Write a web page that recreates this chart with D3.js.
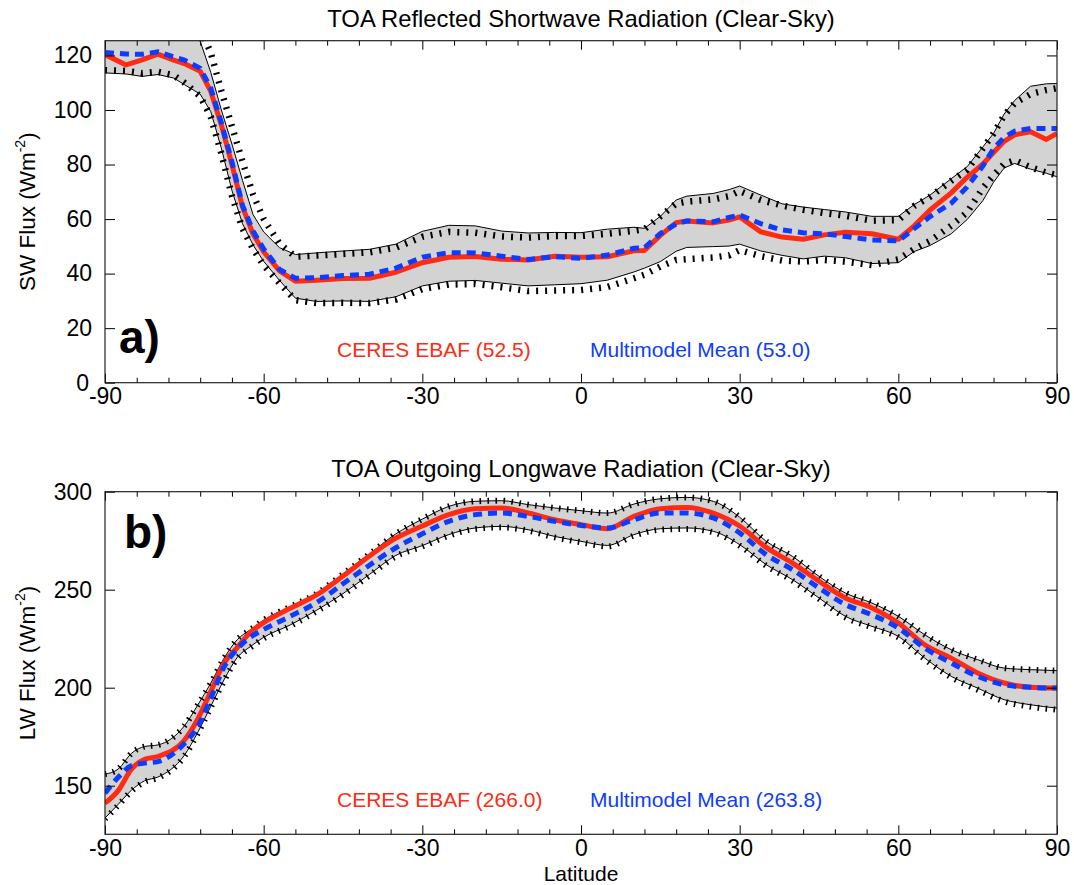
<!DOCTYPE html>
<html><head><meta charset="utf-8">
<script src="https://cdn.jsdelivr.net/npm/d3@7"></script>
<style>
body{margin:0;background:#fff;}
svg{display:block;font-family:"Liberation Sans",Arial,Helvetica,sans-serif;}
</style></head><body>
<svg id="chart" width="1074" height="885"></svg>
<script>
// ---------------- DATA ----------------
// Panel a) TOA reflected SW (clear-sky)
const latSW = [-90,-86,-83,-80,-77,-75,-72,-70,-68,-66,-64,-62,-60,-57,-54,-50,-45,-40,-35,-30,-25,-20,-15,-10,-5,0,5,10,12,15,18,20,25,28,30,34,38,42,46,50,55,60,63,66,70,73,76,78,80,82,85,88,90];
const ceresSW = [120.3,116.5,118.4,120.5,118.3,117.0,114.2,106.8,94.5,80.0,64.5,54.5,48.0,41.0,37.2,37.6,38.2,38.3,40.5,44.0,46.0,46.3,45.3,45.0,46.4,46.0,46.2,48.4,48.5,54.0,58.7,59.3,58.6,59.6,60.8,55.3,53.4,52.6,54.2,55.2,54.6,52.6,57.5,63.3,69.6,75.3,80.2,84.4,88.5,90.9,92.0,89.2,91.4];
const modelSW = [121.1,120.5,120.4,121.3,119.5,118.3,115.3,108.0,95.3,81.0,65.0,55.6,49.0,41.5,38.3,38.5,39.3,39.8,42.0,46.0,47.7,47.6,46.4,45.2,46.2,45.6,46.8,49.3,49.5,54.7,58.2,59.3,59.0,60.6,61.5,58.3,56.0,55.0,54.6,53.6,52.3,52.0,56.5,60.9,65.8,71.8,79.5,85.8,90.0,92.2,93.2,93.2,93.2];
const bandHiSW = [131,131,131,131,130,129,125.2,113.8,100.0,87.5,74.2,61.6,55.3,49.5,47.0,47.6,48.3,48.9,50.8,55.5,57.7,57.5,55.6,54.9,55.1,55.0,56.3,57.0,56.6,61.0,67.0,68.4,69.4,70.8,72.1,68.8,65.6,64.4,63.5,62.6,61.0,61.0,65.3,68.8,74.8,79.2,86.5,91.4,98.5,103.5,108.7,109.6,109.7];
const bandLoSW = [113.6,113.2,112.3,113.0,111.7,109.3,105.8,99.4,86.0,70.5,58.3,50.5,44.5,37.5,31.0,29.8,30.0,29.8,31.5,35.5,37.2,37.5,36.5,35.5,35.9,36.3,37.6,40.6,42.0,44.4,48.2,49.6,49.9,50.1,50.8,48.3,46.7,45.4,46.4,45.8,43.7,44.0,48.1,50.3,54.6,59.8,66.8,73.5,78.7,80.4,78.3,76.8,75.5];
const dotHiSW = [134,134,134,134,133,132,130,121,107,94,81,69,60,51,46.2,46.6,47.2,47.8,49.5,53.5,55.3,55.0,53.6,53.2,53.8,53.8,54.6,55.7,56.3,61.0,65.7,66.4,67.2,68.4,70.3,67.0,65.0,63.4,62.2,61.2,59.4,59.6,64.8,68.2,74.0,78.0,86.0,91.4,98.0,102.5,105.8,107.3,108.0];
const dotLoSW = [114.6,114.3,113.5,114.0,112.7,110.0,105.0,97.5,84.0,68.5,56.5,49.0,43.0,36.5,30.3,29.2,29.3,29.2,30.5,34.3,36.0,36.2,35.0,33.6,33.8,34.0,35.1,38.3,39.6,42.6,45.0,45.3,45.9,46.7,48.6,46.4,44.8,44.4,45.0,44.4,43.1,45.2,49.0,52.0,57.6,62.5,71.4,76.0,80.2,81.6,79.0,77.0,76.1];
const yTicksSW = [0,20,40,60,80,100,120];

// Panel b) TOA outgoing LW (clear-sky)
const latLW = [-90,-87.5,-85,-82.5,-80,-75,-72.5,-70,-67.5,-65,-62.5,-60,-55,-50,-45,-40,-35,-30,-25,-20,-15,-10,-5,0,5,10,15,20,25,30,35,40,45,50,55,60,65,70,75,80,85,90];
const ceresLW = [141.1,147.5,158.4,163.5,164.9,173.2,183.8,198.0,212.5,220.5,228.3,233.2,240.5,247.3,257.0,267.2,276.3,282.5,288.3,291.3,291.7,289.1,285.7,283.2,281.1,287.4,291.3,292.0,289.1,282.5,271.6,263.6,254.3,245.8,240.7,233.0,221.9,215.1,207.5,202.4,200.2,199.8];
const modelLW = [146.2,154.3,160.2,161.5,162.3,171.5,180.0,194.6,210.5,219.8,225.8,229.7,236.4,243.4,253.0,262.5,271.4,278.5,284.9,288.3,289.1,287.4,284.9,282.8,281.5,285.7,289.1,289.1,286.6,279.0,267.9,260.2,250.9,242.4,237.2,230.5,220.2,212.6,205.8,201.5,200.2,199.8];
const bandHiLW = [155.9,158.5,166.5,170.0,170.8,180.5,191.0,202.3,215.0,224.5,229.6,234.5,241.3,248.0,258.0,268.2,278.5,286.0,292.5,295.1,295.4,293.4,291.7,290.3,289.1,293.7,296.4,297.1,295.1,287.0,274.7,267.0,256.8,248.3,243.2,236.4,227.0,219.4,214.3,210.0,209.2,208.7];
const bandLoLW = [133.5,140.5,147.7,152.5,154.4,165.5,177.0,190.5,204.0,215.4,221.0,225.7,232.0,239.5,248.0,257.8,267.5,272.5,278.1,281.5,282.3,280.6,277.2,274.7,272.6,278.1,281.1,281.5,279.8,273.0,262.8,255.1,245.8,236.4,231.3,226.2,215.1,205.8,199.8,193.9,191.3,189.6];
const dotHiLW = bandHiLW.slice();
const dotLoLW = [133.0,140.0,147.2,152.0,154.0,165.0,176.5,190.0,203.5,215.0,220.5,225.2,231.5,239.0,247.5,257.3,267.0,272.0,277.6,281.0,281.8,280.1,276.7,274.2,272.1,277.6,280.6,281.0,279.3,272.5,262.3,254.6,245.3,235.9,230.8,225.7,214.6,205.3,199.0,193.0,190.3,188.8];
const yTicksLW = [150,200,250,300];

const xMajor = [-90,-60,-30,0,30,60,90];
const xMinor = d3.range(-84,90,6).filter(d => d % 30 !== 0);

const RED = "#ff2b12", BLUE = "#0d3cff", GRAY = "#d3d3d3";

// ---------------- DRAW ----------------
const svg = d3.select("#chart");
const X0 = 105, X1 = 1057;
const x = d3.scaleLinear().domain([-90, 90]).range([X0, X1]);

function panel(cfg) {
  const y = d3.scaleLinear().domain(cfg.domain).range([cfg.bottom, cfg.top]);
  const rows = cfg.lat.map((lat, i) => ({
    lat, c: cfg.ceres[i], m: cfg.model[i], lo: cfg.lo[i], hi: cfg.hi[i], dlo: cfg.dlo[i], dhi: cfg.dhi[i]
  }));
  const clipId = "clip" + cfg.id;
  svg.append("clipPath").attr("id", clipId).append("rect")
    .attr("x", X0).attr("y", cfg.top).attr("width", X1 - X0).attr("height", cfg.bottom - cfg.top);
  const g = svg.append("g").attr("clip-path", `url(#${clipId})`);

  const area = d3.area().x(d => x(d.lat)).y0(d => y(d.lo)).y1(d => y(d.hi)).curve(cfg.curve);
  g.append("path").datum(rows).attr("d", area).attr("fill", GRAY);

  const mk = key => d3.line().x(d => x(d.lat)).y(d => y(d[key])).curve(cfg.curve);
  ["lo", "hi"].forEach(k => g.append("path").datum(rows).attr("d", mk(k))
    .attr("fill", "none").attr("stroke", "#000").attr("stroke-width", 1));
  ["dlo", "dhi"].forEach(k => g.append("path").datum(rows).attr("d", mk(k))
    .attr("fill", "none").attr("stroke", "#000").attr("stroke-width", cfg.dotW)
    .attr("stroke-dasharray", cfg.dotDash));
  g.append("path").datum(rows).attr("d", mk("c"))
    .attr("fill", "none").attr("stroke", RED).attr("stroke-width", 5).attr("stroke-linejoin", "round");
  g.append("path").datum(rows).attr("d", mk("m"))
    .attr("fill", "none").attr("stroke", BLUE).attr("stroke-width", 5).attr("stroke-dasharray", "9,6");

  // axes
  const style = sel => {
    sel.select(".domain").remove();
    sel.selectAll("line").attr("stroke", "#000").attr("stroke-width", 1);
    sel.selectAll("text").attr("font-size", 23).attr("fill", "#000")
      .attr("font-family", "'Liberation Sans',Arial,Helvetica,sans-serif");
  };
  svg.append("g").attr("transform", `translate(0,${cfg.bottom})`)
    .call(d3.axisBottom(x).tickValues(xMajor).tickSizeInner(-9).tickSizeOuter(0)
      .tickPadding(cfg.xPad).tickFormat(d => String(d))).call(style);
  svg.append("g").attr("transform", `translate(0,${cfg.bottom})`)
    .call(d3.axisBottom(x).tickValues(xMinor).tickSizeInner(-5).tickSizeOuter(0).tickFormat("")).call(style);
  svg.append("g").attr("transform", `translate(0,${cfg.top})`)
    .call(d3.axisTop(x).tickValues(xMajor).tickSizeInner(-9).tickSizeOuter(0).tickFormat("")).call(style);
  svg.append("g").attr("transform", `translate(0,${cfg.top})`)
    .call(d3.axisTop(x).tickValues(xMinor).tickSizeInner(-5).tickSizeOuter(0).tickFormat("")).call(style);
  const yAx = svg.append("g").attr("transform", `translate(${X0},0)`)
    .call(d3.axisLeft(y).tickValues(cfg.yTicks).tickSizeInner(-10).tickSizeOuter(0)
      .tickPadding(13).tickFormat(d => String(d))).call(style);
  // keep the bottom-most y label clear of the first x label
  yAx.selectAll(".tick text").filter(d => Math.abs(y(d) - cfg.bottom) < 1).attr("x", -16);
  svg.append("g").attr("transform", `translate(${X1},0)`)
    .call(d3.axisRight(y).tickValues(cfg.yTicks).tickSizeInner(-10).tickSizeOuter(0).tickFormat("")).call(style);

  svg.append("rect").attr("x", X0).attr("y", cfg.top).attr("width", X1 - X0).attr("height", cfg.bottom - cfg.top)
    .attr("fill", "none").attr("stroke", "#222").attr("stroke-width", 1.2);

  // title
  svg.append("text").attr("x", (X0 + X1) / 2).attr("y", cfg.titleY).attr("text-anchor", "middle")
    .attr("font-size", 23.8).text(cfg.title);
  // y label
  const yl = svg.append("text").attr("transform", `translate(35,${(cfg.top + cfg.bottom) / 2}) rotate(-90)`)
    .attr("text-anchor", "middle").attr("font-size", 22.5);
  yl.append("tspan").text(cfg.ylab + " (Wm");
  yl.append("tspan").attr("dy", -10).attr("font-size", 14).text("-2");
  yl.append("tspan").attr("dy", 10).text(")");
  // panel letter
  svg.append("text").attr("x", cfg.letterX).attr("y", cfg.letterY).attr("font-size", 46)
    .attr("font-weight", "bold").text(cfg.letter);
  // legend
  svg.append("text").attr("x", 337).attr("y", cfg.legY).attr("font-size", 21).attr("fill", RED)
    .text(cfg.legC);
  svg.append("text").attr("x", 590).attr("y", cfg.legY).attr("font-size", 21).attr("fill", BLUE)
    .text(cfg.legM);
}

panel({
  id: "a", top: 40.7, bottom: 382.7, domain: [0, 125.4], yTicks: yTicksSW,
  lat: latSW, ceres: ceresSW, model: modelSW, lo: bandLoSW, hi: bandHiSW, dlo: dotLoSW, dhi: dotHiSW,
  curve: d3.curveLinear, dotW: 6.5, dotDash: "2,7",
  xPad: 5, title: "TOA Reflected Shortwave Radiation (Clear-Sky)", titleY: 26.5,
  ylab: "SW Flux", letter: "a)", letterX: 119, letterY: 353, legY: 357,
  legC: "CERES EBAF (52.5)", legM: "Multimodel Mean (53.0)"
});
panel({
  id: "b", top: 491.7, bottom: 834.3, domain: [125.2, 300], yTicks: yTicksLW,
  lat: latLW, ceres: ceresLW, model: modelLW, lo: bandLoLW, hi: bandHiLW, dlo: dotLoLW, dhi: dotHiLW,
  curve: d3.curveMonotoneX, dotW: 6, dotDash: "1.6,6.4",
  xPad: 5.5, title: "TOA Outgoing Longwave Radiation (Clear-Sky)", titleY: 477,
  ylab: "LW Flux", letter: "b)", letterX: 124, letterY: 548, legY: 807,
  legC: "CERES EBAF (266.0)", legM: "Multimodel Mean (263.8)"
});

svg.append("text").attr("x", (X0 + X1) / 2).attr("y", 880.5).attr("text-anchor", "middle")
  .attr("font-size", 21).text("Latitude");
</script>
</body></html>
